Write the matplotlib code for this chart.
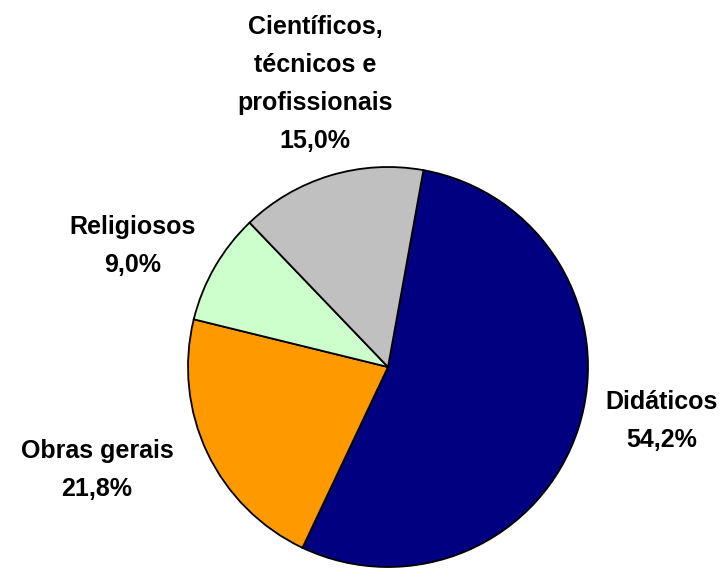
import matplotlib
matplotlib.use("Agg")
import matplotlib.pyplot as plt

categories = ["Didáticos", "Obras gerais", "Religiosos", "Científicos,\ntécnicos e\nprofissionais"]
values = [54.2, 21.8, 9.0, 15.0]
value_labels = ["54,2%", "21,8%", "9,0%", "15,0%"]
colors = ["#000080", "#FF9900", "#CCFFCC", "#C0C0C0"]

W, H = 727, 571
fig = plt.figure(figsize=(W / 100, H / 100), dpi=100)
ax = fig.add_axes([0, 0, 1, 1])

ax.pie(values, colors=colors, startangle=79.8, counterclock=False,
       center=(388, H - 367), radius=200, frame=True,
       wedgeprops=dict(edgecolor="black", linewidth=1.3))
ax.set_xlim(0, W)
ax.set_ylim(0, H)
ax.set_aspect("equal")
ax.axis("off")

label_pos = [(662, 421), (97, 470), (133, 246), (315, 84)]
font = dict(family=["Liberation Sans", "DejaVu Sans"], fontweight="bold", fontsize=18)
for cat, vl, (x, y) in zip(categories, value_labels, label_pos):
    ax.text(x, H - y, cat + "\n" + vl, ha="center", va="center",
            linespacing=1.72, **font)

fig.savefig("out.png", dpi=100)
